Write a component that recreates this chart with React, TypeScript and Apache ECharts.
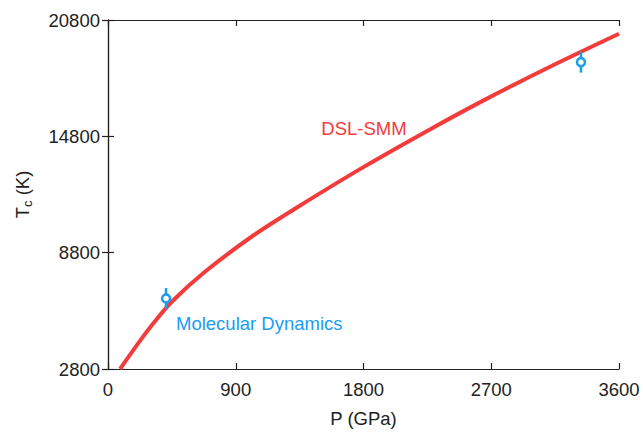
import React, { useEffect, useRef } from "react";
import * as echarts from "echarts";

// DSL-SMM curve (P in GPa, Tc in K)
const pressure = [85, 211, 331, 451, 683, 1021, 1331, 1796, 2268, 2670, 3135, 3600];
const tc = [2800, 4110, 5262, 6282, 7813, 9672, 11129, 13198, 15157, 16745, 18466, 20093];

// Molecular Dynamics points: P, Tc, error
const mdPressure = [409, 3332];
const mdTc = [6440, 18626];
const mdErr = [540, 540];

const xTicks = [0, 900, 1800, 2700, 3600];
const yTicks = [2800, 8800, 14800, 20800];

const RED = "#f23c3c";
const BLUE = "#1a9cf0";
const FONT = "Liberation Sans, Arial, sans-serif";

export default function App() {
  const ref = useRef<HTMLDivElement>(null);
  useEffect(() => {
    document.body.style.margin = "0";
    const chart = echarts.init(ref.current!, undefined, { renderer: "svg" });
    const axisCommon = {
      type: "value" as const,
      axisLine: { show: true, lineStyle: { color: "#222", width: 1.2 } },
      axisTick: { show: true, inside: true, length: 6, lineStyle: { color: "#222", width: 1.2 } },
      splitLine: { show: false },
    };
    const fmt = (v: number) => String(v);
    chart.setOption({
      animation: false,
      backgroundColor: "#fff",
      grid: { left: 108, top: 20, right: 24, bottom: 57 },
      xAxis: [
        {
          ...axisCommon,
          min: xTicks[0],
          max: xTicks[xTicks.length - 1],
          interval: xTicks[1] - xTicks[0],
          position: "bottom",
          axisLabel: { color: "#222", fontSize: 18.5, fontFamily: FONT, margin: 11, formatter: fmt },
          name: "P (GPa)",
          nameLocation: "middle",
          nameGap: 40,
          nameTextStyle: { color: "#222", fontSize: 18.5, fontFamily: FONT },
        },
        {
          ...axisCommon,
          min: xTicks[0],
          max: xTicks[xTicks.length - 1],
          interval: xTicks[1] - xTicks[0],
          position: "top",
          axisLabel: { show: false },
        },
      ],
      yAxis: [
        {
          ...axisCommon,
          min: yTicks[0],
          max: yTicks[yTicks.length - 1],
          interval: yTicks[1] - yTicks[0],
          position: "left",
          axisLabel: { color: "#222", fontSize: 18.5, fontFamily: FONT, margin: 8, formatter: fmt },
          name: "{a|T}{b|c}{a| (K)}",
          nameLocation: "middle",
          nameGap: 74,
          nameTextStyle: {
            color: "#222",
            fontFamily: FONT,
            rich: {
              a: { fontSize: 18.5, fontFamily: FONT, color: "#222", lineHeight: 24, verticalAlign: "middle" },
              b: { fontSize: 13, fontFamily: FONT, color: "#222", lineHeight: 24, verticalAlign: "bottom" },
            },
          },
        },
        {
          ...axisCommon,
          min: yTicks[0],
          max: yTicks[yTicks.length - 1],
          interval: yTicks[1] - yTicks[0],
          position: "right",
          axisLabel: { show: false },
        },
      ],
      series: [
        {
          type: "line",
          data: pressure.map((p, i) => [p, tc[i]]),
          smooth: 0.3,
          symbol: "none",
          lineStyle: { color: RED, width: 4 },
          clip: true,
          z: 2,
        },
        {
          type: "custom",
          data: mdPressure.map((p, i) => [p, mdTc[i], mdErr[i]]),
          z: 3,
          renderItem: (params: any, api: any) => {
            const x = api.value(0);
            const y = api.value(1);
            const e = api.value(2);
            const c = api.coord([x, y]);
            const top = api.coord([x, y + e]);
            const bot = api.coord([x, y - e]);
            return {
              type: "group",
              children: [
                {
                  type: "line",
                  shape: { x1: top[0], y1: top[1], x2: bot[0], y2: bot[1] },
                  style: { stroke: BLUE, lineWidth: 2.5 },
                },
                {
                  type: "circle",
                  shape: { cx: c[0], cy: c[1], r: 4 },
                  style: { fill: "#fff", stroke: BLUE, lineWidth: 2.5 },
                },
              ],
            };
          },
        },
      ],
      graphic: [
        {
          type: "text",
          x: 364,
          y: 128,
          style: {
            text: "DSL-SMM",
            fill: RED,
            fontSize: 18.5,
            fontFamily: FONT,
            align: "center",
            verticalAlign: "middle",
          },
        },
        {
          type: "text",
          x: 176,
          y: 323,
          style: {
            text: "Molecular Dynamics",
            fill: BLUE,
            fontSize: 18.5,
            fontFamily: FONT,
            align: "left",
            verticalAlign: "middle",
          },
        },
      ],
    });
    return () => chart.dispose();
  }, []);
  return <div ref={ref} style={{ width: 643, height: 433 }} />;
}
